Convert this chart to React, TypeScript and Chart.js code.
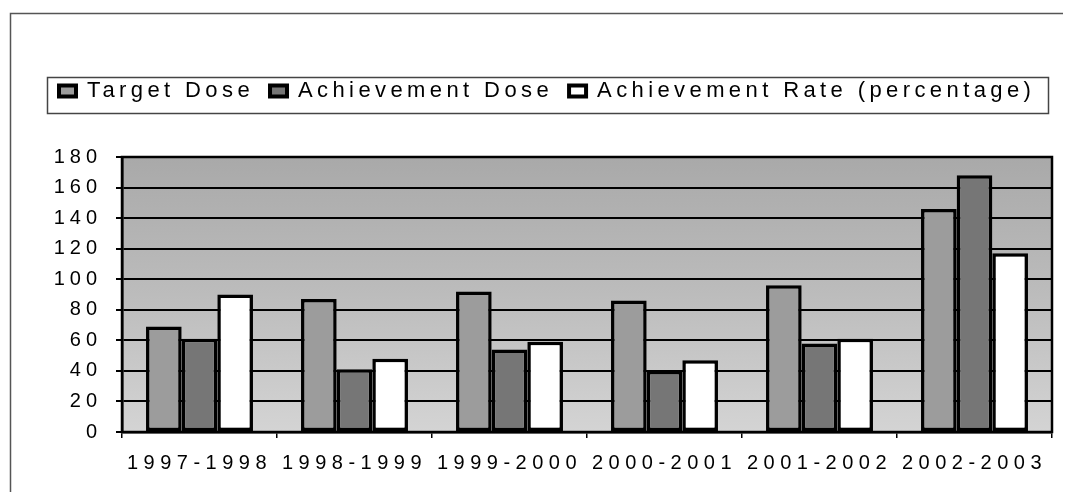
import React, { useEffect, useRef } from 'react';
import { Chart, registerables } from 'chart.js';

Chart.register(...registerables);

const categories = ['1997-1998', '1998-1999', '1999-2000', '2000-2001', '2001-2002', '2002-2003'];
const targetDose = [69, 87, 92, 86, 96, 146];
const achievementDose = [61, 41, 54, 40, 58, 168];
const achievementRate = [90, 48, 59, 47, 61, 117];
const yTicks = [0, 20, 40, 60, 80, 100, 120, 140, 160, 180];

const FONT = "'Liberation Sans', Arial, sans-serif";

const decor = {
  id: 'decor',
  beforeInit(chart: any) {
    const lg = chart.legend;
    if (lg) {
      const origFit = lg.fit.bind(lg);
      lg.fit = function () {
        const ctx = chart.ctx;
        ctx.letterSpacing = '4.4px';
        origFit();
        ctx.letterSpacing = '0px';
        this.height = 93;
      };
      const origDraw = lg.draw.bind(lg);
      lg.draw = function () {
        const ctx = chart.ctx;
        ctx.letterSpacing = '4.4px';
        origDraw();
        ctx.letterSpacing = '0px';
      };
    }
  },
  afterLayout(chart: any) {
    if (chart.legend) {
      chart.legend.left = 35;
    }
  },
  beforeDraw(chart: any) {
    const { ctx, chartArea: a } = chart;
    ctx.save();
    const g = ctx.createLinearGradient(0, a.top, 0, a.bottom);
    g.addColorStop(0, '#a9a9a9');
    g.addColorStop(0.5, '#bcbcbc');
    g.addColorStop(1, '#d4d4d4');
    ctx.fillStyle = g;
    ctx.fillRect(a.left, a.top, a.right - a.left, a.bottom - a.top);
    ctx.restore();
  },
  afterDatasetsDraw(chart: any) {
    const { ctx, chartArea: a } = chart;
    ctx.save();
    ctx.strokeStyle = '#000';
    ctx.lineWidth = 2.5;
    ctx.strokeRect(a.left, a.top, a.right - a.left, a.bottom - a.top);
    ctx.restore();
  },
  afterDraw(chart: any) {
    const { ctx, width, height } = chart;
    ctx.save();
    ctx.strokeStyle = '#555';
    ctx.lineWidth = 1.5;
    ctx.beginPath();
    ctx.moveTo(2.5, height);
    ctx.lineTo(2.5, 5.5);
    ctx.lineTo(width, 5.5);
    ctx.stroke();
    ctx.strokeStyle = '#444';
    ctx.lineWidth = 1.5;
    ctx.strokeRect(39.5, 69.5, 1001, 36);
    ctx.restore();
  },
};

function wrapDraw(scale: any, spacing: string) {
  if (scale._lsWrapped) return;
  const orig = scale.draw;
  scale.draw = function (area: any) {
    const ctx = this.ctx;
    ctx.letterSpacing = spacing;
    orig.call(this, area);
    ctx.letterSpacing = '0px';
  };
  scale._lsWrapped = true;
}

export default function App() {
  const ref = useRef<HTMLCanvasElement | null>(null);

  useEffect(() => {
    if (!ref.current) return;
    const chart = new Chart(ref.current, {
      type: 'bar',
      data: {
        labels: categories,
        datasets: [
          {
            label: 'Target Dose',
            data: targetDose,
            backgroundColor: '#9c9c9c',
            borderColor: '#000',
            borderWidth: 3.5,
            borderSkipped: false,
          },
          {
            label: 'Achievement Dose',
            data: achievementDose,
            backgroundColor: '#767676',
            borderColor: '#000',
            borderWidth: 3.5,
            borderSkipped: false,
          },
          {
            label: 'Achievement Rate (percentage)',
            data: achievementRate,
            backgroundColor: '#ffffff',
            borderColor: '#000',
            borderWidth: 3.5,
            borderSkipped: false,
          },
        ],
      },
      options: {
        responsive: false,
        animation: false,
        layout: { padding: { top: 56, right: 11, left: 0, bottom: 0 } },
        datasets: {
          bar: { categoryPercentage: 0.69, barPercentage: 1 },
        },
        plugins: {
          legend: {
            position: 'top',
            align: 'start',
            labels: {
              boxWidth: 17,
              boxHeight: 11,
              padding: 16,
              color: '#000',
              font: { family: FONT, size: 22 },
              generateLabels(chart: any) {
                const base = (Chart as any).defaults.plugins.legend.labels.generateLabels(chart);
                return base.map((l: any) => ({ ...l, lineWidth: 4 }));
              },
            },
          },
          tooltip: { enabled: false },
        },
        scales: {
          x: {
            grid: {
              display: true,
              drawOnChartArea: false,
              drawTicks: true,
              tickLength: 6,
              color: '#000',
              lineWidth: 1.5,
            },
            border: { color: '#000', width: 2.5 },
            ticks: {
              color: '#000',
              font: { family: FONT, size: 20 },
              padding: 13,
              autoSkip: false,
              maxRotation: 0,
              minRotation: 0,
            },
            afterFit(scale: any) {
              scale.height = 60;
              wrapDraw(scale, '5.5px');
            },
          },
          y: {
            min: 0,
            max: 180,
            afterBuildTicks(scale: any) {
              scale.ticks = yTicks.map((v) => ({ value: v }));
            },
            grid: {
              color: '#000',
              lineWidth: 2,
              tickLength: 6,
              drawTicks: true,
            },
            border: { color: '#000', width: 2.5 },
            ticks: {
              color: '#000',
              font: { family: FONT, size: 20 },
              padding: 14,
            },
            afterFit(scale: any) {
              scale.width = 114;
              wrapDraw(scale, '5px');
            },
          },
        },
      },
      plugins: [decor],
    });
    return () => chart.destroy();
  }, []);

  return (
    <div style={{ width: 1055, height: 484 }}>
      <canvas ref={ref} width={1055} height={484} style={{ display: 'block' }} />
    </div>
  );
}
